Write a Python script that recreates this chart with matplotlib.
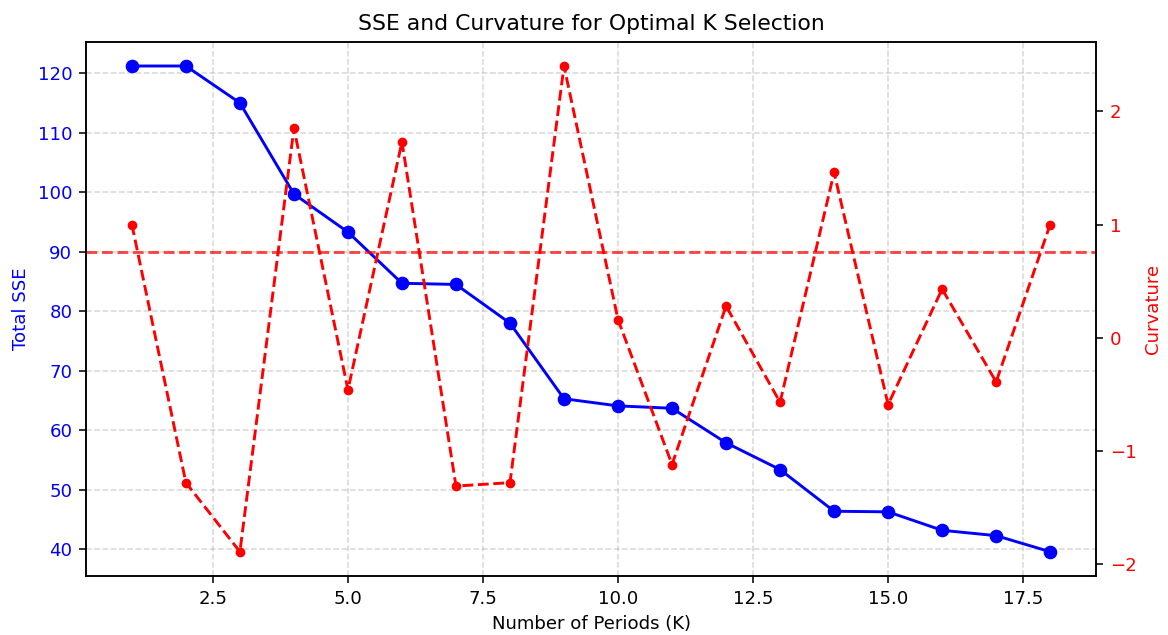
import numpy as np
import matplotlib
matplotlib.use("Agg")
import matplotlib.pyplot as plt

plt.rcParams['font.size'] = 9.35

# number of periods
k_values = list(range(1, 19))
# total SSE per K
sse = [121.2, 121.2, 115.0, 99.7, 93.3, 84.7, 84.5, 78.0, 65.3,
       64.1, 63.7, 57.9, 53.4, 46.4, 46.3, 43.2, 42.3, 39.6]
# curvature per K
curvature = [1.00, -1.28, -1.89, 1.85, -0.46, 1.73, -1.31, -1.28, 2.40,
             0.16, -1.12, 0.28, -0.57, 1.46, -0.59, 0.43, -0.39, 1.00]
threshold = 90

fig, ax1 = plt.subplots(figsize=(1168 / 140, 635 / 140), dpi=140)
fig.subplots_adjust(left=0.0736, right=0.9384, top=0.9343, bottom=0.0929)

ax1.plot(k_values, sse, 'bo-', label='SSE')
ax1.set_xlabel('Number of Periods (K)')
ax1.set_ylabel('Total SSE', color='blue')
ax1.tick_params(axis='y', labelcolor='blue')
ax1.grid(True, linestyle='--', alpha=0.5)
ax1.axhline(threshold, color='red', linestyle='--', alpha=0.7)

ax2 = ax1.twinx()
ax2.plot(k_values, curvature, 'ro--', markersize=4, label='Curvature')
ax2.set_ylabel('Curvature', color='red')
ax2.tick_params(axis='y', labelcolor='red')

plt.title('SSE and Curvature for Optimal K Selection')
plt.savefig('out.png', dpi=140)
